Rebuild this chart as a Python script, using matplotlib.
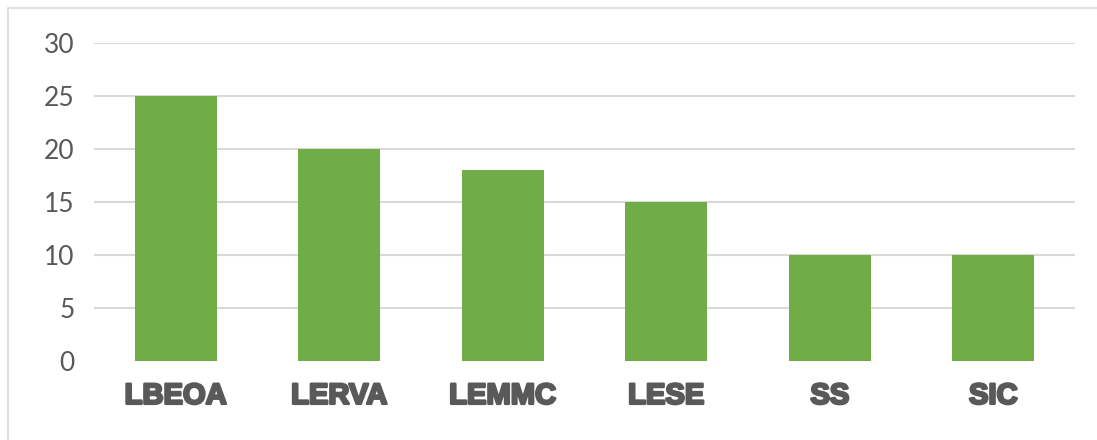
import matplotlib
matplotlib.use('Agg')
from matplotlib import pyplot as plt
from matplotlib.patches import Rectangle
import matplotlib.patheffects as pe

categories = ['LBEOA', 'LERVA', 'LEMMC', 'LESE', 'SS', 'SIC']
values = [25, 20, 18, 15, 10, 10]
y_ticks = [0, 5, 10, 15, 20, 25, 30]

fig = plt.figure(figsize=(10.97, 4.40), dpi=100)
ax = fig.add_axes([94/1097, 1 - 361/440, (1075 - 94)/1097, (361 - 43)/440])

# light border round the chart area, cut off at right and bottom like the source
fig.patches.append(Rectangle((8/1097, -0.05), 1.1, 1 - 8/440 + 0.05,
                             transform=fig.transFigure, fill=False,
                             edgecolor='#D9D9D9', linewidth=1.2))

ax.bar(range(len(categories)), values, width=0.5, color='#70AD47', zorder=3)

ax.set_xlim(-0.5, len(categories) - 0.5)
ax.set_ylim(0, 30)
ax.set_yticks(y_ticks)
ax.set_yticklabels([str(t) for t in y_ticks], fontsize=19, color='#595959',
                   family=['Lato', 'DejaVu Sans'])
ax.set_xticks(range(len(categories)))
ax.set_xticklabels(categories, fontsize=21, color='#595959', fontweight='bold',
                   family=['Liberation Sans', 'DejaVu Sans'])
for lbl in ax.get_xticklabels():
    lbl.set_path_effects([pe.withStroke(linewidth=1.8, foreground='#595959')])

ax.grid(axis='y', color='#D9D9D9', linewidth=1.5, zorder=0)
ax.yaxis.get_gridlines()[0].set_visible(False)
ax.tick_params(axis='both', length=0)
ax.tick_params(axis='y', pad=14)
ax.tick_params(axis='x', pad=15)
for s in ax.spines.values():
    s.set_visible(False)

fig.savefig('out.png', dpi=100)
